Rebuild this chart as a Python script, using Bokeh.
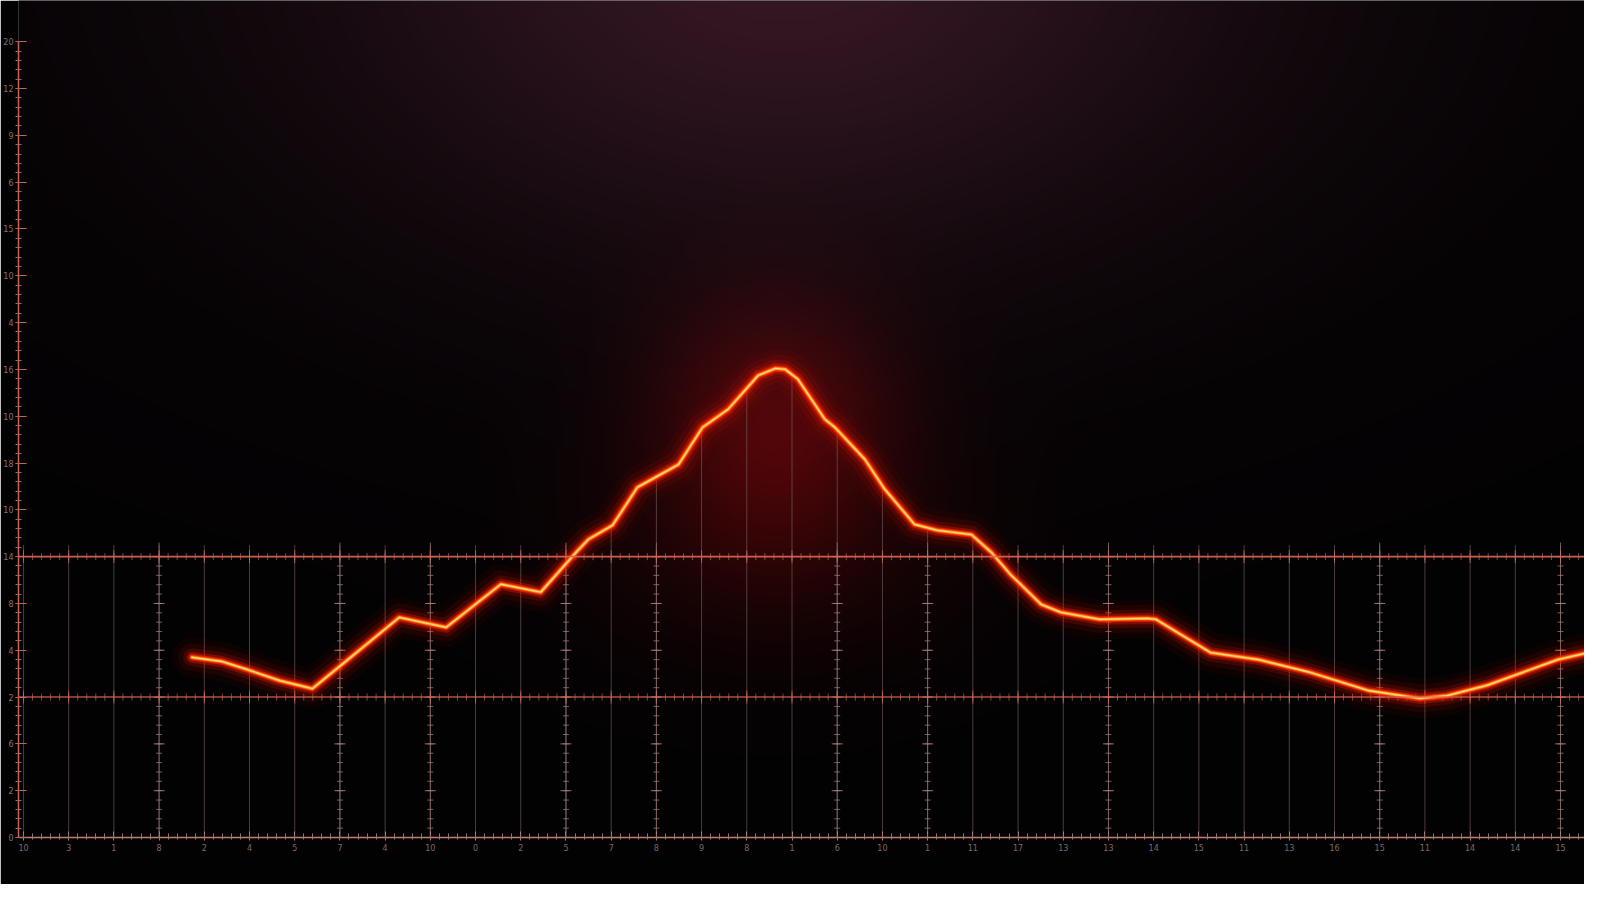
import numpy as np
from bokeh.plotting import figure
from bokeh.models import SingleIntervalTicker, FixedTicker, Span
from bokeh.embed import file_html
from bokeh.resources import INLINE

# ---------------- data ----------------
x_vals = [3.73, 4.39, 4.94, 5.67, 6.39, 7.15, 8.31, 9.35, 10.56, 11.44,
          12.26, 12.50, 13.03, 13.58, 14.49, 15.02, 15.59, 16.25, 16.63, 16.85,
          17.13, 17.73, 17.95, 18.61, 19.05, 19.71, 20.22, 20.97, 21.41, 21.83,
          22.51, 22.95, 23.81, 24.87, 25.05, 26.26, 27.32, 28.45, 29.75, 30.89,
          31.49, 32.37, 33.94, 34.53]
y_vals = [3.85, 3.76, 3.59, 3.35, 3.18, 3.78, 4.70, 4.49, 5.41, 5.24,
          6.13, 6.37, 6.67, 7.48, 7.97, 8.76, 9.15, 9.87, 10.02, 10.00,
          9.79, 8.93, 8.76, 8.08, 7.44, 6.69, 6.56, 6.47, 6.09, 5.62,
          4.98, 4.81, 4.66, 4.68, 4.66, 3.95, 3.80, 3.53, 3.14, 2.97,
          3.03, 3.25, 3.80, 3.93]

y_tick_labels = ["0", "2", "6", "2", "4", "8", "14", "10", "18", "10",
                 "16", "4", "10", "15", "6", "9", "12", "20"]
x_tick_labels = ["10", "3", "1", "8", "2", "4", "5", "7", "4", "10", "0",
                 "2", "5", "7", "8", "9", "8", "1", "6", "10", "1", "11", "17",
                 "13", "13", "14", "15", "11", "13", "16", "15", "11", "14", "14", "15"]
highlight_columns = [3, 7, 9, 12, 14, 18, 20, 24, 30, 34]
upper_rule = 6
lower_rule = 3
faint_rows = [1, 2, 4, 5]

# ---------------- figure ----------------
X0, X1 = -0.11, 34.53
Y0, Y1 = 0.0, 17.88
W, H = 1584, 884

p = figure(width=W, height=H, x_range=(X0, X1), y_range=(Y0, Y1),
           output_backend="svg", toolbar_location=None,
           min_border_left=14, min_border_right=0, min_border_top=0,
           min_border_bottom=47)
p.background_fill_color = "#030203"
p.border_fill_color = "#030203"
p.outline_line_color = None

# background glow image
nx, ny = 800, 450
gx = np.linspace(X0, X1, nx)
gy = np.linspace(Y0, Y1, ny)
GX, GY = np.meshgrid(gx, gy)
SX = 26 + GX * 45.35
SY = 845 - GY * 46.8
g_top = np.exp(-((SX - 790) / 430) ** 2 - ((SY + 40) / 290) ** 2)
g_wide = np.exp(-((SX - 790) / 800) ** 2 - ((SY + 40) / 420) ** 2)
g_peak = np.exp(-((SX - 780) / 120) ** 2 - ((SY - 430) / 120) ** 2)
g_under = np.exp(-((SX - 780) / 180) ** 2 - ((SY - 560) / 110) ** 2)
r = 3 + 40 * g_top + 10 * g_wide + 68 * g_peak + 22 * g_under
g = 2 + 16 * g_top + 5 * g_wide + 2 * g_peak + 1 * g_under
b = 3 + 26 * g_top + 7 * g_wide + 3 * g_peak + 1 * g_under
img = np.empty((ny, nx), dtype=np.uint32)
view = img.view(dtype=np.uint8).reshape((ny, nx, 4))
view[:, :, 0] = np.clip(r, 0, 255).astype(np.uint8)
view[:, :, 1] = np.clip(g, 0, 255).astype(np.uint8)
view[:, :, 2] = np.clip(b, 0, 255).astype(np.uint8)
view[:, :, 3] = 255
p.image_rgba(image=[img], x=X0, y=Y0, dw=X1 - X0, dh=Y1 - Y0)

# grid
p.xgrid.visible = False
p.ygrid.ticker = FixedTicker(ticks=faint_rows)
p.ygrid.grid_line_color = "#5a4646"
p.ygrid.grid_line_alpha = 0.8

xs_grid = np.arange(0, 35)
tops = np.maximum(6.25, np.interp(xs_grid, x_vals, y_vals) - 0.05)
p.segment(x0=xs_grid, y0=0, x1=xs_grid, y1=tops,
          line_color="#7a6464", line_alpha=0.6, line_width=1)

# highlighted tick columns
for c in highlight_columns:
    p.segment(x0=[c], y0=[0], x1=[c], y1=[6.3], line_color="#8c7070",
              line_alpha=0.8, line_width=1)
    minor_y = np.arange(0.2, 6.2, 0.2)
    p.scatter(x=np.full(len(minor_y), c), y=minor_y, marker="dash", size=6,
              line_color="#a07a7a", line_alpha=0.75)
    p.scatter(x=np.full(6, c), y=np.arange(1, 7), marker="dash", size=11,
              line_color="#b08080", line_alpha=0.85)

# red rules with ticks
for loc, alpha in ((upper_rule, 0.95), (lower_rule, 0.8)):
    p.add_layout(Span(location=loc, dimension="width", line_color="#d8634f",
                      line_width=1.6, line_alpha=alpha))
    mx = np.arange(0, 34.6, 0.2)
    p.scatter(x=mx, y=np.full(len(mx), loc), marker="dash", angle=np.pi / 2,
              size=7, line_color="#c86a5a", line_alpha=0.65)
    p.scatter(x=xs_grid, y=np.full(len(xs_grid), loc), marker="dash",
              angle=np.pi / 2, size=13, line_color="#d07060", line_alpha=0.7)

# glowing line
for width, color, alpha in ((40, "#ff1000", 0.04), (28, "#ff1400", 0.08),
                            (18, "#ff1800", 0.15), (11, "#ff1c00", 0.32),
                            (6.5, "#ff2606", 0.65), (4.2, "#ff3c10", 0.95),
                            (2.8, "#ff9a28", 1.0), (1.3, "#ffdc6c", 1.0)):
    p.line(x_vals, y_vals, line_width=width, line_color=color, line_alpha=alpha,
           line_join="round", line_cap="round")

# axes
font = "DejaVu Sans"
ya = p.yaxis[0]
ya.ticker = SingleIntervalTicker(interval=1, num_minor_ticks=5)
ya.bounds = (0, 17)
ya.major_label_overrides = {i: s for i, s in enumerate(y_tick_labels)}
ya.axis_line_color = "#c4665a"
ya.axis_line_width = 1.5
ya.major_tick_line_color = "#c4665a"
ya.major_tick_in = 8
ya.major_tick_out = 3
ya.minor_tick_line_color = "#b06058"
ya.minor_tick_in = 3
ya.minor_tick_out = 3
ya.major_label_text_color = "#8a7070"
ya.major_label_text_font = font
ya.major_label_text_font_size = "8px"
ya.major_label_standoff = 2

xa = p.xaxis[0]
xa.ticker = SingleIntervalTicker(interval=1, num_minor_ticks=5)
xa.major_label_overrides = {i: s for i, s in enumerate(x_tick_labels)}
xa.axis_line_color = "#c08078"
xa.axis_line_width = 1.4
xa.major_tick_line_color = "#b08080"
xa.major_tick_in = 6
xa.major_tick_out = 3
xa.minor_tick_line_color = "#9a7474"
xa.minor_tick_in = 4
xa.minor_tick_out = 2
xa.major_label_text_color = "#7a6a6a"
xa.major_label_text_font = font
xa.major_label_text_font_size = "8px"
xa.major_label_standoff = 3

open("out.html", "w").write(file_html(p, INLINE))
